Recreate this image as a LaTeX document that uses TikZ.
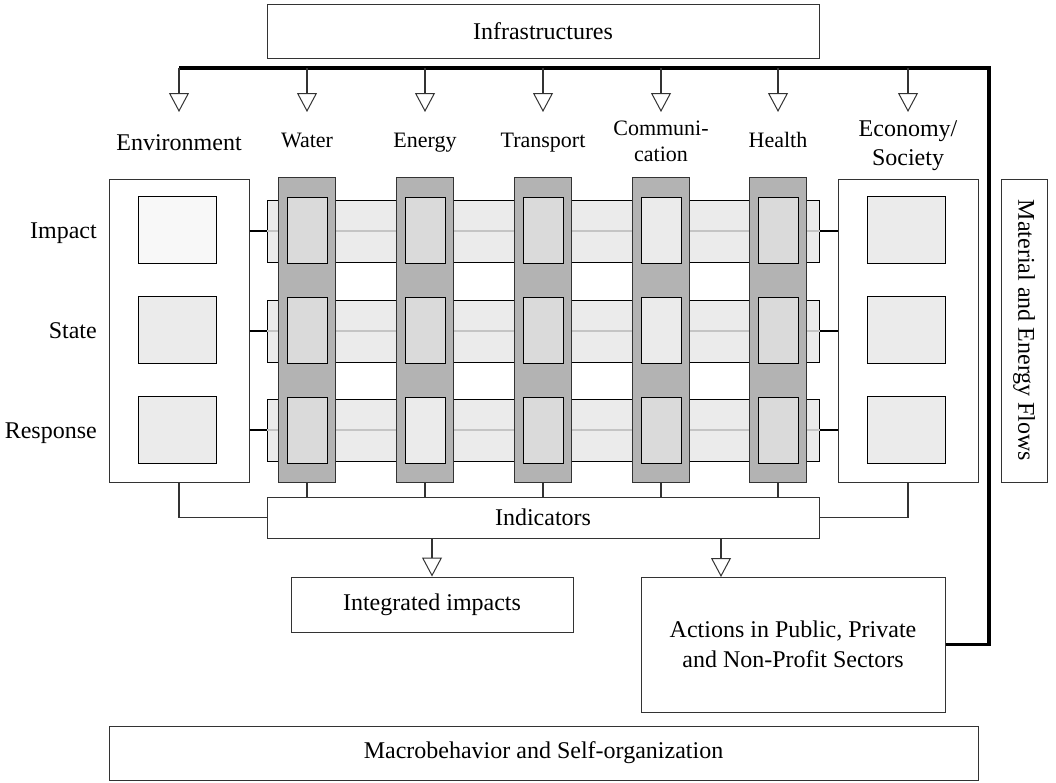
\documentclass[tikz,border=0pt]{standalone}
\usepackage{fontspec}
\setmainfont{Liberation Serif}
\usetikzlibrary{arrows.meta}

\definecolor{colgray}{HTML}{B3B3B3}
\definecolor{cellgray}{HTML}{DADADA}
\definecolor{lightcell}{HTML}{EBEBEB}
\definecolor{palecell}{HTML}{F8F8F8}
\definecolor{barline}{HTML}{C4C4C4}
\definecolor{edgegray}{HTML}{333333}

\tikzset{
  box/.style={draw=edgegray, line width=1pt, fill=white, inner sep=0pt, align=center, font=\fontsize{24}{30}\selectfont},
  sector/.style={draw=edgegray, line width=1pt, fill=colgray, minimum width=57pt, minimum height=305pt},
  cell/.style={draw=black, line width=1pt, minimum width=40pt, minimum height=66pt},
  bigcell/.style={draw=black, line width=1pt, minimum width=78pt, minimum height=67pt},
  band/.style={draw=black, line width=1pt, fill=lightcell, minimum width=552pt, minimum height=62pt},
  link/.style={draw=edgegray, line width=1.6pt},
  drop/.style={link, -{Triangle[open, length=19pt, width=20pt, line width=1pt]}},
  feedback/.style={draw=black, line width=3.2pt},
  lbl/.style={inner sep=0pt, align=center, font=\fontsize{22}{26}\selectfont},
  biglbl/.style={lbl, font=\fontsize{24}{29}\selectfont},
}

\begin{document}
\begin{tikzpicture}[x=1pt, y=-1pt]
  \useasboundingbox (0,0) rectangle (1056,782);

  % Infrastructures on top
  \node[box, minimum width=552pt, minimum height=54pt] (infra) at (543,31) {Infrastructures};

  % Headings of the columns
  \node[biglbl, anchor=base] (lab-env) at (179,150) {Environment};
  \node[lbl, anchor=base] (lab-water) at (307,147) {Water};
  \node[lbl, anchor=base] (lab-energy) at (425,147) {Energy};
  \node[lbl, anchor=base] (lab-transport) at (543,147) {Transport};
  \node[lbl] (lab-comm) at (661,141) {Communi-\\cation};
  \node[lbl, anchor=base] (lab-health) at (778,147) {Health};
  \node[biglbl] (lab-econ) at (908,146) {Economy/\\Society};

  % Row headings
  \node[biglbl, anchor=base east] (row-1) at (97,238) {Impact};
  \node[biglbl, anchor=base east] (row-2) at (97,338) {State};
  \node[biglbl, anchor=base east] (row-3) at (97,438) {Response};

  % Environment and economy boxes
  \node[box, minimum width=140pt, minimum height=303pt] (env) at (179,330.5) {};
  \node[box, minimum width=140pt, minimum height=303pt] (econ) at (908,330.5) {};
  \foreach \r/\y/\f in {1/230/palecell, 2/330/lightcell, 3/430/lightcell} {
    \node[bigcell, fill=\f] (env-\r) at (177,\y) {};
    \node[bigcell, fill=lightcell] (econ-\r) at (906,\y) {};
  }

  % Horizontal bands
  \foreach \r/\y in {1/231, 2/331, 3/430} {
    \node[band] (band-\r) at (543,\y) {};
    \draw[barline, line width=1.6pt] (band-\r.west) -- (band-\r.east);
    \draw[link, black] (env.east |- band-\r) -- (band-\r.west);
    \draw[link, black] (band-\r.east) -- (econ.west |- band-\r);
  }

  % Sector columns
  \foreach \name/\x/\fa/\fb/\fc in {water/307/cellgray/cellgray/cellgray,
      energy/425/cellgray/cellgray/lightcell, transport/543/cellgray/cellgray/cellgray,
      comm/661/lightcell/lightcell/cellgray, health/778/cellgray/cellgray/cellgray} {
    \node[sector] (col-\name) at (\x,329.5) {};
    \node[cell, fill=\fa] (cell-\name-1) at (\x,230) {};
    \node[cell, fill=\fb] (cell-\name-2) at (\x,330) {};
    \node[cell, fill=\fc] (cell-\name-3) at (\x,430) {};
  }

  % Indicators and outputs
  \node[box, minimum width=552pt, minimum height=41pt] (ind) at (543,517.5) {Indicators};
  \node[box, minimum width=282pt, minimum height=55pt] (integ) at (432,604.5) {Integrated impacts};
  \node[box, minimum width=304pt, minimum height=135pt] (act) at (793,644.5) {Actions in Public, Private\\and Non-Profit Sectors};
  \node[box, minimum width=869pt, minimum height=54pt] (macro) at (543.5,753) {Macrobehavior and Self-organization};

  % Material and energy flows
  \node[box, rotate=-90, minimum width=303pt, minimum height=46pt] (flows) at (1024,330.5) {Material and Energy Flows};

  % Links down to the indicators
  \foreach \name in {water, energy, transport, comm, health}
    \draw[link] (col-\name.south) -- (col-\name.south |- ind.north);
  \draw[link] (env.south) |- (ind.west);
  \draw[link] (econ.south) |- (ind.east);

  % Indicators to outputs
  \coordinate (act-in) at (721,577);
  \draw[drop] (ind.south -| integ.north) -- (integ.north);
  \draw[drop] (ind.south -| act-in) -- (act-in);

  % Feedback loop back to the sectors
  \coordinate (bus-r) at (989,68);
  \coordinate (bus-l) at (179,68);
  \draw[feedback] (act.east) -| (bus-r) -- (bus-l);
  \foreach \name/\x in {env/179, water/307, energy/425, transport/543, comm/661, health/778, econ/908} {
    \coordinate (tip-\name) at (\x,112);
    \draw[drop] (tip-\name |- bus-l) -- (tip-\name);
  }
\end{tikzpicture}
\end{document}
